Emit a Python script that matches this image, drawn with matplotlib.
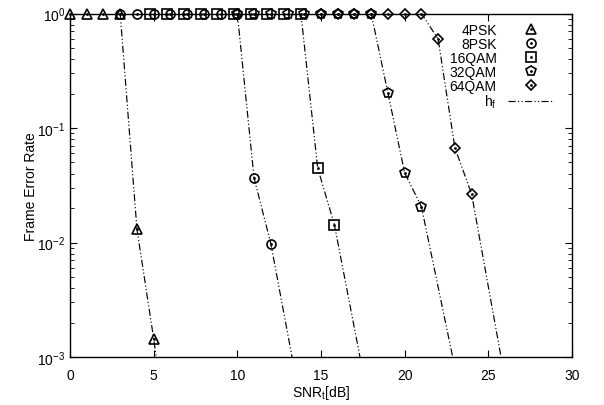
import matplotlib
matplotlib.use("Agg")
import matplotlib.pyplot as plt
from matplotlib.legend_handler import HandlerTuple
from matplotlib.lines import Line2D

plt.rcParams['font.family'] = ['Liberation Sans', 'DejaVu Sans']
plt.rcParams['mathtext.fontset'] = 'custom'
plt.rcParams['mathtext.rm'] = 'Liberation Sans'
plt.rcParams['mathtext.it'] = 'Liberation Sans:italic'
plt.rcParams['mathtext.bf'] = 'Liberation Sans:bold'

# ---- data ----
snr_4psk = [0, 1, 2, 3, 4, 5]
fer_4psk = [1, 1, 1, 1, 0.0131, 0.00145]

snr_8psk = [3, 4, 5, 6, 7, 8, 9, 10, 11, 12]
fer_8psk = [1, 1, 1, 1, 1, 1, 1, 1, 0.0366, 0.0098]

snr_16qam = [4.8, 5.8, 6.8, 7.8, 8.8, 9.8, 10.8, 11.8, 12.8, 13.8, 14.8, 15.8]
fer_16qam = [1, 1, 1, 1, 1, 1, 1, 1, 1, 1, 0.0448, 0.0143]

snr_32qam = [10, 11, 12, 13, 14, 15, 16, 17, 18, 19, 20, 21]
fer_32qam = [1, 1, 1, 1, 1, 1, 1, 1, 1, 0.202, 0.0405, 0.0206]

snr_64qam = [15, 16, 17, 18, 19, 20, 21, 22, 23, 24]
fer_64qam = [1, 1, 1, 1, 1, 1, 1, 0.598, 0.0673, 0.0265]

# h_f curves (line only)
hf_snr_4psk = [0, 1, 2, 3, 4, 5, 5.15]
hf_fer_4psk = [1, 1, 1, 1, 0.0131, 0.00145, 0.001]
hf_snr_8psk = [3, 10, 11, 12, 13.27]
hf_fer_8psk = [1, 1, 0.0366, 0.0098, 0.001]
hf_snr_16qam = [4.8, 13.8, 14.8, 15.8, 17.33]
hf_fer_16qam = [1, 1, 0.0448, 0.0143, 0.001]
hf_snr_32qam = [10, 18, 19, 20, 21, 22.87]
hf_fer_32qam = [1, 1, 0.202, 0.0405, 0.0206, 0.001]
hf_snr_64qam = [15, 21, 22, 23, 24, 25.76]
hf_fer_64qam = [1, 1, 0.598, 0.0673, 0.0265, 0.001]

labels = ['4PSK', '8PSK', '16QAM', '32QAM', '64QAM']
markers = ['^', 'o', 's', 'p', 'D']
msizes = [7, 6.5, 7, 7, 5.5]

fig = plt.figure(figsize=(6.04, 4.06), dpi=100)
ax = fig.add_axes([70/604, 1-358/406, (572-70)/604, (358-14.5)/406])

hf_style = dict(color='black', lw=0.85, linestyle=(0, (6, 2, 1, 2, 1, 2)))
for xs, ys in [(hf_snr_4psk, hf_fer_4psk), (hf_snr_8psk, hf_fer_8psk),
               (hf_snr_16qam, hf_fer_16qam), (hf_snr_32qam, hf_fer_32qam),
               (hf_snr_64qam, hf_fer_64qam)]:
    ax.plot(xs, ys, **hf_style)

handles = []
for xs, ys, m, ms, lab in zip([snr_4psk, snr_8psk, snr_16qam, snr_32qam, snr_64qam],
                              [fer_4psk, fer_8psk, fer_16qam, fer_32qam, fer_64qam],
                              markers, msizes, labels):
    h1, = ax.plot(xs, ys, linestyle='none', marker=m, ms=ms, mfc='none',
                  mec='black', mew=1.2, clip_on=False, zorder=5)
    h2, = ax.plot(xs, ys, linestyle='none', marker='.', ms=2, color='black',
                  clip_on=False, zorder=6)
    handles.append((h1, h2))

hf_handle = Line2D([], [], **hf_style)

ax.set_yscale('log')
ax.set_xlim(0, 30)
ax.set_ylim(1e-3, 1)
ax.set_xticks([0, 5, 10, 15, 20, 25, 30])
ax.tick_params(which='both', direction='in', top=True, right=True, labelsize=10)
ax.tick_params(which='major', length=5)
ax.tick_params(which='minor', length=3)
ax.tick_params(axis='x', which='major', pad=8)
for s in ax.spines.values():
    s.set_linewidth(1.0)

ax.set_xlabel(r'SNR$_\mathrm{t}$[dB]', fontsize=10, labelpad=1)
ax.set_ylabel('Frame Error Rate', fontsize=10, labelpad=-1)

leg = ax.legend(handles + [hf_handle], labels + [r'h$_\mathrm{f}$'],
                handler_map={tuple: HandlerTuple(ndivide=1)},
                loc='upper right', bbox_to_anchor=(0.98, 0.997), markerfirst=False,
                frameon=False, fontsize=10, labelspacing=0.0, handlelength=3.3,
                handletextpad=0.8, borderaxespad=0.2)
for t in leg.get_texts():
    t.set_ha('right')

fig.savefig('out.png', dpi=100)
